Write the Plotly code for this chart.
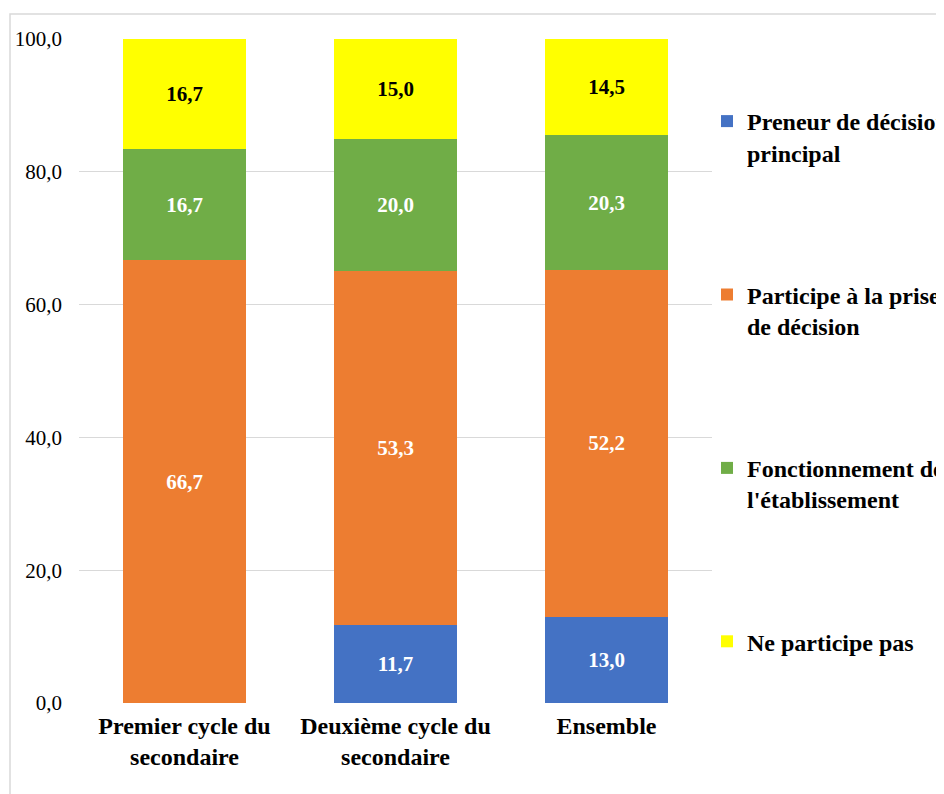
import plotly.graph_objects as go

# Categories and series
categories = ["Premier cycle du<br>secondaire", "Deuxième cycle du<br>secondaire", "Ensemble"]
preneur = [0.0, 11.7, 13.0]
participe = [66.7, 53.3, 52.2]
fonctionnement = [16.7, 20.0, 20.3]
ne_participe = [16.7, 15.0, 14.5]

series_names = ["Preneur de décision<br>principal", "Participe à la prise<br>de décision",
                "Fonctionnement de<br>l'établissement", "Ne participe pas<br> "]
series_values = [preneur, participe, fonctionnement, ne_participe]
colors = ["#4472C4", "#ED7D31", "#70AD47", "#FFFF00"]
text_colors = ["white", "white", "white", "black"]

FONT = "Liberation Serif"
# the page body adds an 8px offset, so the figure is 8px smaller than the window
W, H = 936, 786
L, R, T, B = 71, 232, 31, 91
plot_h = H - T - B
pw = W - L - R


def bold(s):
    return "<br>".join(f"<b>{p}</b>" if p.strip() else p for p in s.split("<br>"))


fig = go.Figure()
for i, (name, vals, col, tcol) in enumerate(zip(series_names, series_values, colors, text_colors)):
    labels = [bold(f"{v:.1f}".replace(".", ",")) if v > 0 else "" for v in vals]
    fig.add_trace(go.Bar(
        x=categories, y=vals, name=bold(name), marker=dict(color=col, line=dict(width=0)),
        text=labels, textposition="inside", insidetextanchor="middle",
        textfont=dict(family=FONT, size=21, color=tcol),
        legendgroup=f"g{i}", hoverinfo="skip",
    ))

fig.update_layout(
    barmode="stack", bargap=0.42,
    width=W, height=H,
    margin=dict(l=L, r=R, t=T, b=B, autoexpand=False),
    paper_bgcolor="white", plot_bgcolor="white",
    separators=", ",
    showlegend=True,
    font=dict(family=FONT, color="black"),
    legend=dict(
        x=(699 - L) / pw, xanchor="left",
        y=(H - B - 91) / plot_h, yanchor="top",
        font=dict(family=FONT, size=24, color="black"),
        bgcolor="rgba(0,0,0,0)", valign="top", itemclick=False,
        traceorder="reversed+grouped", tracegroupgap=108,
    ),
)

fig.update_yaxes(
    range=[0, 100], dtick=20, tickformat=".1f",
    showgrid=True, gridcolor="#D9D9D9", gridwidth=1,
    zeroline=False, showline=False,
    tickfont=dict(family=FONT, size=21, color="black"),
    ticklabelstandoff=16,
)
fig.update_xaxes(
    showgrid=False, showline=False,
    tickvals=categories, ticktext=[bold(c) for c in categories],
    tickfont=dict(family=FONT, size=24, color="black"),
    ticklabelstandoff=6,
)

# outer chart frame (partly cut off on the right and bottom, as in the original)
fig.add_shape(type="rect", xref="paper", yref="paper",
              x0=(2 - L) / pw, x1=(W + 20 - L) / pw,
              y0=-(B + 20) / plot_h, y1=1 + (T - 6) / plot_h,
              line=dict(color="#D9D9D9", width=1.5), layer="below")

fig.write_html("out.html")
